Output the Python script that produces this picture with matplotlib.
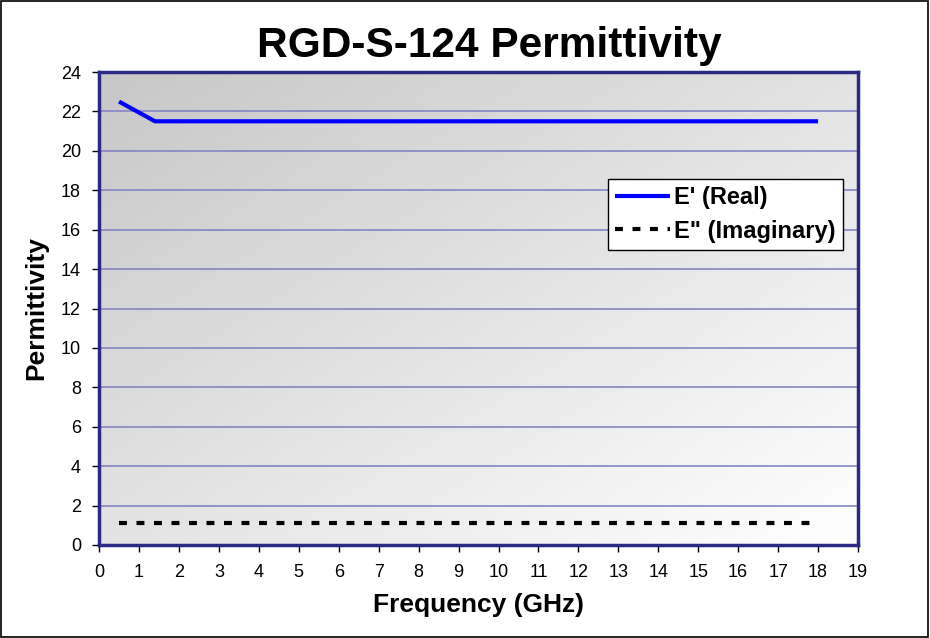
import numpy as np
import matplotlib
matplotlib.use("Agg")
import matplotlib.pyplot as plt
from matplotlib.patches import Rectangle

plt.rcParams['font.family'] = ['Liberation Sans', 'DejaVu Sans']

title = "RGD-S-124 Permittivity"
xlabel = "Frequency (GHz)"
ylabel = "Permittivity"
freq_real = [0.5, 1.4, 18.0]
eps_real = [22.5, 21.5, 21.5]
freq_imag = [0.5, 18.0]
eps_imag = [1.1, 1.1]
xticks = list(range(0, 20))
yticks = list(range(0, 25, 2))

fig = plt.figure(figsize=(9.3, 6.38), dpi=100)
fig.patch.set_facecolor('white')
fig.patches.append(Rectangle((0.001, 0.001), 0.997, 0.997, transform=fig.transFigure,
                             fill=False, edgecolor='black', linewidth=1.2))

ax = fig.add_axes([0.1065, 0.1458, 0.8161, 0.7413])
ax.set_xlim(0, 19)
ax.set_ylim(0, 24)

# gradient background: darker top-left, white bottom-right
n = 256
xx, yy = np.meshgrid(np.linspace(0, 1, n), np.linspace(0, 1, n))
t = (xx + yy) / 2.0
lo, hi = 0.78, 1.0
grad = lo + (hi - lo) * t
img = np.dstack([grad, grad, grad])
ax.imshow(img, extent=[0, 1, 0, 1], transform=ax.transAxes, aspect='auto',
          origin='upper', zorder=0, interpolation='bilinear')

for yv in yticks[1:-1]:
    ax.axhline(yv, color='#8585c2', linewidth=1.2, zorder=1)

ax.plot(freq_real, eps_real, color='#0000ff', linewidth=3, label="E' (Real)", zorder=3,
        solid_capstyle='butt')
ax.plot(freq_imag, eps_imag, color='black', linewidth=3, linestyle=(0, (1.9, 2.3)),
        label='E" (Imaginary)', zorder=3, dash_capstyle='butt')

for s in ax.spines.values():
    s.set_color('#2a2a85')
    s.set_linewidth(2.5)
    s.set_zorder(4)

ax.set_xticks(xticks)
ax.set_yticks(yticks)
ax.tick_params(axis='both', direction='out', length=5, width=1, color='black',
               labelsize=13)
ax.tick_params(axis='x', pad=9)
ax.tick_params(axis='y', pad=8)
ax.set_xlabel(xlabel, fontsize=19, fontweight='bold', labelpad=8)
ax.set_ylabel(ylabel, fontsize=19, fontweight='bold', labelpad=9)
fig.text(0.526, 0.928, title, fontsize=30.5, fontweight='bold', ha='center', va='center')

leg = ax.legend(loc='upper left', bbox_to_anchor=(0.671, 0.774), frameon=True, fancybox=False,
                prop={'weight': 'bold', 'size': 17}, handlelength=2.3, handletextpad=0.2,
                borderpad=0.3, labelspacing=0.45, borderaxespad=0)
leg.get_frame().set_edgecolor('black')
leg.get_frame().set_linewidth(1.0)
leg.get_frame().set_facecolor('white')
leg.get_frame().set_alpha(1)
leg.set_zorder(5)

fig.savefig('out.png', dpi=100)
